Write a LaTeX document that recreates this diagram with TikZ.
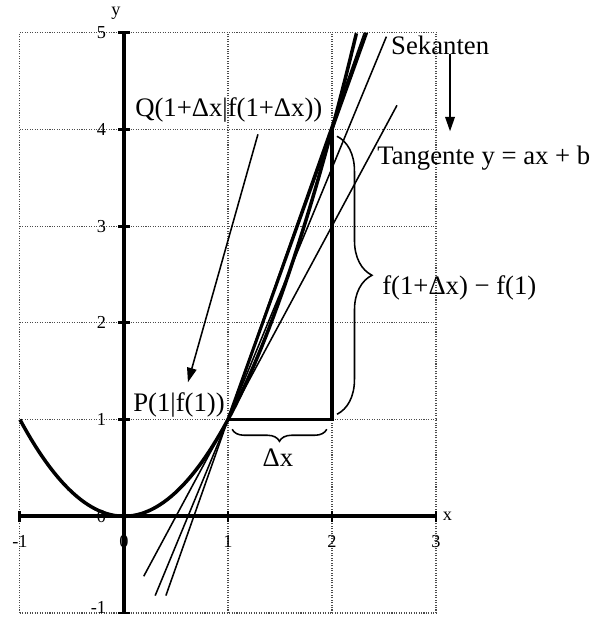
\documentclass[tikz,border=0pt]{standalone}
\usepackage{fontspec}
\setmainfont{Liberation Serif}
\usetikzlibrary{arrows.meta,calc,positioning,decorations.pathreplacing}

\begin{document}
\begin{tikzpicture}[x=2.6cm, y=2.4175cm,
    gridline/.style={densely dotted, gray!60!black, line width=0.75pt},
    axis/.style={line width=2.8pt},
    tick/.style={line width=2.1pt},
    curve/.style={line width=2.5pt},
    thinline/.style={line width=1.1pt},
    thickline/.style={line width=2.2pt},
    arrow/.style={-{Triangle[length=0.36cm, width=0.24cm]}, line width=1.1pt},
    brace/.style={decorate, decoration={brace, amplitude=#1}, line width=1.1pt},
    brace/.default=0.3cm,
    lbl/.style={font=\fontsize{19}{23}\selectfont, inner sep=0pt},
    num/.style={font=\fontsize{13}{15}\selectfont, inner sep=0pt}
]
\useasboundingbox (-1.192,-1.062) rectangle (4.606,5.339);

% Grid
\draw[gridline, step={(1,1)}] (-1,-1) grid (3,5);

% Tick labels
\foreach \i in {-1,0,1,2,3}
    \node[num] (xt\i) at (\i,-0.26) {\i};
\foreach \j in {0,1,2,3,4,5}
    \node[num, anchor=east] (yt\j) at (-0.17,\j) {\j};
\node[num, anchor=east] (ytm) at (-0.17,-0.94) {-1};
\node[num] (ylabel) at (-0.077,5.2) {y};
\node[num] (xlabel) at (3.11,0) {x};

% Axes
\draw[axis] (-1,0) -- (3,0);
\draw[axis] (0,-1) -- (0,5);
\foreach \i in {-1,1,2,3}
    \draw[tick] (\i,-0.057) -- (\i,0.057);
\foreach \j in {-1,1,2,3,4,5}
    \draw[tick] (-0.055,\j) -- (0.055,\j);

% Points
\coordinate (P) at (1,1);
\coordinate (Q) at (2,4);
\coordinate (R) at (2,1);

% Parabola
\draw[curve] plot[domain=-1:2.236, samples=90] (\x,{\x*\x});

% Tangent and secants
\draw[thinline] (0.19,-0.62) -- (2.625,4.25);
\draw[thinline] (0.30,-0.82) -- (2.523,4.96);
\draw[thinline] (0.403,-0.82) -- (2.311,5);
\draw[thickline] (P) -- (2.333,5);

% Difference triangle
\draw[thickline] (P) -- (R) -- (Q);

% Braces
\draw[brace] (1.95,0.9) -- (1.04,0.9);
\draw[brace=0.875cm] (2.048,3.93) -- (2.048,1.055);

% Labels
\node[lbl, anchor=base west] (sekanten) at (2.567,4.778) {Sekanten};
\node[lbl, anchor=base west] (tangente) at (2.433,3.640) {Tangente y = ax + b};
\node[lbl, anchor=base west] (qlabel) at (0.106,4.137) {Q(1+Δx|f(1+Δx))};
\node[lbl, anchor=base west] (plabel) at (0.087,1.086) {P(1|f(1))};
\node[lbl, anchor=base] (dxlabel) at (1.481,0.517) {Δx};
\node[lbl, anchor=base west] (difflabel) at (2.481,2.296) {f(1+Δx) − f(1)};

% Arrows
\coordinate (stail) at (3.135,4.778);
\coordinate (stip) at (3.135,3.981);
\coordinate (qtail) at (1.288,3.950);
\coordinate (qtip) at (0.615,1.386);
\draw[arrow] (stail) -- (stip);
\draw[arrow] (qtail) -- (qtip);

\end{tikzpicture}
\end{document}
